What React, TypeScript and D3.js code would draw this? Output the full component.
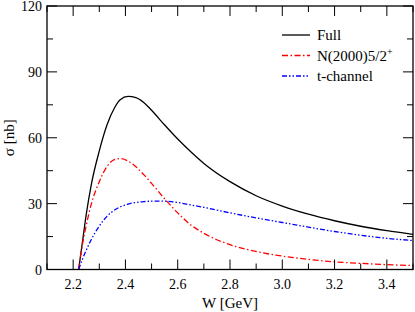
import React from "react";
import * as d3 from "d3";

const W_GRID = [2.221, 2.235, 2.25, 2.27, 2.3, 2.33, 2.36, 2.38, 2.41, 2.44, 2.47, 2.5, 2.55, 2.6, 2.65, 2.7, 2.8, 2.9, 3.0, 3.1, 3.2, 3.3, 3.4, 3.5];
const FULL = [0, 12, 25, 39, 54, 66, 74, 77.3, 78.8, 78.3, 76.1, 72.5, 65.8, 59.4, 53.6, 48.3, 40.0, 33.6, 28.9, 25.2, 22.2, 19.7, 17.7, 16.0];
const N2000 = [0, 11, 20, 30, 40, 47, 50.2, 50.5, 49.4, 46.8, 43.2, 39.2, 32.2, 25.8, 20.3, 16.5, 11.3, 8.2, 6.1, 4.6, 3.5, 2.8, 2.2, 1.8];
const TCHAN = [0, 4.5, 8.8, 13.8, 19.8, 24.3, 27.2, 28.5, 29.8, 30.5, 30.9, 31.1, 31.1, 30.5, 29.4, 28.3, 25.8, 23.5, 21.4, 19.3, 17.3, 15.6, 14.2, 13.2];

const X_TICKS = [2.2, 2.4, 2.6, 2.8, 3.0, 3.2, 3.4];
const X_MINOR = [2.1, 2.3, 2.5, 2.7, 2.9, 3.1, 3.3, 3.5];
const Y_TICKS = [0, 30, 60, 90, 120];
const Y_MINOR = [15, 45, 75, 105];

const SERIES = [
  { name: "Full", values: FULL, color: "#000000", dash: "" },
  { name: "N(2000)5/2", sup: "+", values: N2000, color: "#ff0000", dash: "6,2.5,1.5,2.5" },
  { name: "t-channel", values: TCHAN, color: "#0000ff", dash: "5,2,1.5,2,1.5,2" },
];

export default function App() {
  const width = 415, height = 312;
  const L = 47, R = 413, T = 6, B = 269.5;
  const x = d3.scaleLinear().domain([2.1, 3.5]).range([L, R]);
  const y = d3.scaleLinear().domain([0, 120]).range([B, T]);
  const font = "'Liberation Serif', 'Times New Roman', serif";

  const line = (vals: number[]) =>
    d3.line<number>()
      .x((_, i) => x(W_GRID[i]))
      .y((d) => y(d))
      .curve(d3.curveMonotoneX)(vals) || "";

  const maj = 10, mnr = 6;

  return (
    <svg width={width} height={height} style={{ position: "absolute", left: 0, top: 0 }} fontFamily={font}>
      <rect x={0} y={0} width={width} height={height} fill="#fff" />
      <defs>
        <clipPath id="plot">
          <rect x={L} y={T} width={R - L} height={B - T} />
        </clipPath>
      </defs>
      <g clipPath="url(#plot)">
        {SERIES.map((s) => (
          <path key={s.name} d={line(s.values)} fill="none" stroke={s.color} strokeWidth={1.3} strokeDasharray={s.dash || undefined} />
        ))}
      </g>
      <g stroke="#000" strokeWidth={1}>
        {X_TICKS.map((t) => (
          <g key={"xt" + t}>
            <line x1={x(t)} x2={x(t)} y1={B} y2={B - maj} />
            <line x1={x(t)} x2={x(t)} y1={T} y2={T + maj} />
          </g>
        ))}
        {X_MINOR.map((t) => (
          <g key={"xm" + t}>
            <line x1={x(t)} x2={x(t)} y1={B} y2={B - mnr} />
            <line x1={x(t)} x2={x(t)} y1={T} y2={T + mnr} />
          </g>
        ))}
        {Y_TICKS.map((t) => (
          <g key={"yt" + t}>
            <line x1={L} x2={L + maj} y1={y(t)} y2={y(t)} />
            <line x1={R} x2={R - maj} y1={y(t)} y2={y(t)} />
          </g>
        ))}
        {Y_MINOR.map((t) => (
          <g key={"ym" + t}>
            <line x1={L} x2={L + mnr} y1={y(t)} y2={y(t)} />
            <line x1={R} x2={R - mnr} y1={y(t)} y2={y(t)} />
          </g>
        ))}
      </g>
      <rect x={L} y={T} width={R - L} height={B - T} fill="none" stroke="#000" strokeWidth={1.3} />
      <g fontSize={14} fill="#000">
        {X_TICKS.map((t) => (
          <text key={"xl" + t} x={x(t)} y={B + 19} textAnchor="middle">{t.toFixed(1)}</text>
        ))}
        {Y_TICKS.map((t) => (
          <text key={"yl" + t} x={L - 5} y={y(t) + 5} textAnchor="end">{t}</text>
        ))}
      </g>
      <text x={(L + R) / 2} y={308} textAnchor="middle" fontSize={15}>W [GeV]</text>
      <text transform={`translate(14,${(T + B) / 2}) rotate(-90)`} textAnchor="middle" fontSize={15}>σ [nb]</text>
      <g fontSize={15}>
        {SERIES.map((s, i) => {
          const ly = 35 + i * 20.5;
          return (
            <g key={"lg" + s.name}>
              <line x1={282} x2={310} y1={ly} y2={ly} stroke={s.color} strokeWidth={1.3} strokeDasharray={s.dash || undefined} />
              <text x={317} y={ly + 5}>
                {s.name}
                {s.sup ? <tspan dy={-6} fontSize={10}>{s.sup}</tspan> : null}
              </text>
            </g>
          );
        })}
      </g>
    </svg>
  );
}
